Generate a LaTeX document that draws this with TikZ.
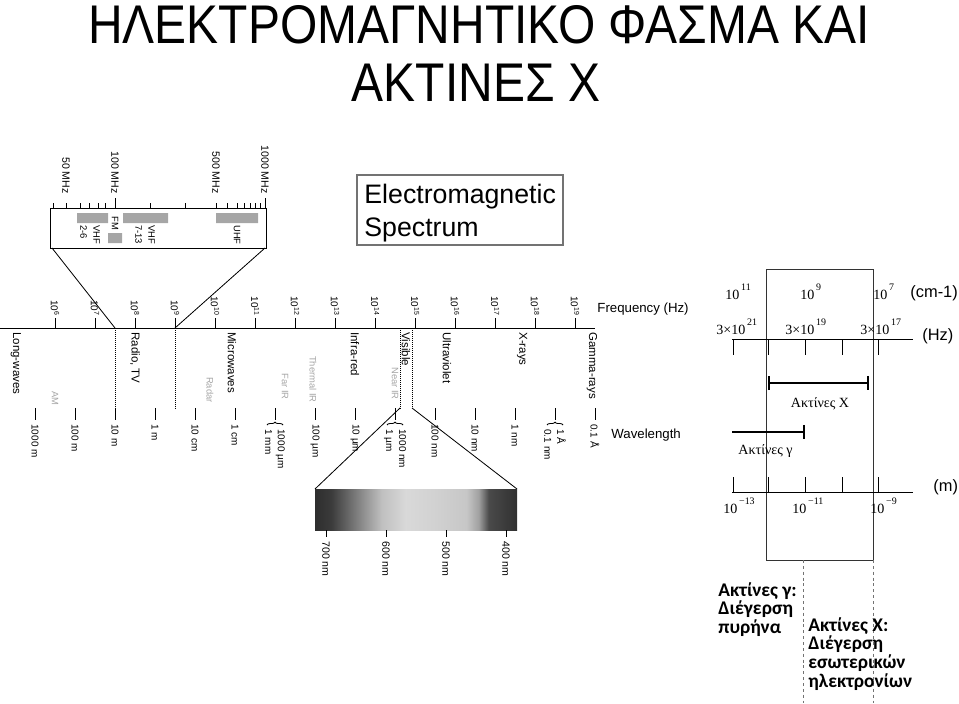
\documentclass[tikz,border=0pt]{standalone}
\usepackage{fontspec}
\setmainfont{Liberation Sans}
\newfontfamily\rmgr{Liberation Serif}
\newfontfamily\notefont{Carlito}
\usetikzlibrary{arrows.meta,decorations.pathreplacing,positioning}
% grey levels of the visible strip
\definecolor{vsA}{gray}{0.18}
\definecolor{vsB}{gray}{0.23}
\definecolor{vsC}{gray}{0.48}
\definecolor{vsD}{gray}{0.75}
\definecolor{vsE}{gray}{0.85}
\definecolor{vsF}{gray}{0.82}
\definecolor{vsG}{gray}{0.78}
\definecolor{vsH}{gray}{0.63}
\definecolor{vsI}{gray}{0.29}
\definecolor{vsJ}{gray}{0.19}
\pgfdeclarehorizontalshading{visspec}{100bp}{color(0bp)=(vsA); color(25bp)=(vsA);
  color(29bp)=(vsB); color(35bp)=(vsC); color(41.5bp)=(vsD); color(47.5bp)=(vsE);
  color(55bp)=(vsF); color(62.5bp)=(vsG); color(65.5bp)=(vsH); color(68bp)=(vsI);
  color(75bp)=(vsJ); color(100bp)=(vsJ)}
\newcommand\pw[1]{\raisebox{0.62em}{\fontsize{8.5}{9}\selectfont\,#1}}

\begin{document}
\begin{tikzpicture}[x=0.03cm, y=-0.03cm, line width=0.7pt,
  every node/.style={inner sep=0pt},
  fqlab/.style={rotate=-90, anchor=east, font=\fontsize{8.5}{9}\selectfont},
  band/.style={rotate=-90, anchor=west, font=\fontsize{9.8}{11}\selectfont},
  faint/.style={rotate=-90, anchor=east, text=black!35, font=\fontsize{8}{9}\selectfont},
  wlab/.style={rotate=-90, anchor=west, align=left, font=\fontsize{8.5}{11}\selectfont},
  inlab/.style={rotate=-90, anchor=west, align=left, font=\fontsize{8}{11}\selectfont},
  axlab/.style={anchor=west, font=\fontsize{11.3}{13}\selectfont},
  sclab/.style={anchor=base west, font=\rmgr\fontsize{12}{14}\selectfont},
  unitlab/.style={anchor=west, font=\fontsize{14}{16}\selectfont},
  note/.style={anchor=north west, align=left, font=\notefont\bfseries\fontsize{16.5}{16}\selectfont},
  title/.style={anchor=base, xscale=0.88, font=\fontsize{46.5}{50}\selectfont}]
\useasboundingbox (0,0) rectangle (959,703);
% Title
\node[title] (title1) at (479,44) {ΗΛΕΚΤΡΟΜΑΓΝΗΤΙΚΟ ΦΑΣΜΑ ΚΑΙ};
\node[title] (title2) at (476,101) {ΑΚΤΙΝΕΣ Χ};

% Radio band blow-up
\draw (50,208) rectangle (266,248);
\foreach \x in {53,66,80,89,98,105,150,185,216,227,237,244,250,255,260}
  \draw (\x,203) -- (\x,208);
\foreach \x in {115,265} \draw (\x,198) -- (\x,208);
\foreach \x/\l in {66/50,115/100,216/500,265/1000}
  \node[fqlab, font=\fontsize{9}{10}\selectfont] (mhz\l) at (\x,194) {\l\ MHz};
\fill[black!35] (77,213) rectangle (108,223) (123,213) rectangle (168,223)
  (216,213) rectangle (258,223) (108,233) rectangle (122,243);
\node[inlab] (vhflo) at (90,225) {VHF\\2-6};
\node[inlab] (fm) at (115,216) {FM};
\node[inlab] (vhfhi) at (145,225) {VHF\\7-13};
\node[inlab] (uhf) at (237,225) {UHF};
\coordinate (inL) at (52,248);
\coordinate (inR) at (265,248);
\coordinate (cut7) at (115,328);
\coordinate (cut9) at (175,328);
\draw (inL) -- (cut7);
\draw (inR) -- (cut9);

% Box title
\draw[black!55, line width=0.9pt] (357,175) rectangle (563,245);
\node[anchor=west, align=left, font=\fontsize{22.8}{27.5}\selectfont] (emtitle) at (364,213) {Electromagnetic\\Spectrum};

% Frequency axis
\draw (0,328) -- (595,328);
\foreach \n in {6,...,19} {
  \pgfmathsetmacro{\fx}{55+40*(\n-6)}
  \draw (\fx,318) -- (\fx,328);
  \node[fqlab] (f\n) at (\fx,316) {10\textsuperscript{\n}};
}
\node[axlab] (freq) at (597,309) {Frequency (Hz)};

% Bands
\foreach \x in {115,175,400,412} \draw[densely dotted] (\x,328) -- (\x,408);
\foreach \x/\t in {16/Long-waves, 135/{Radio, TV}, 232/Microwaves, 355/Infra-red,
  406/Visible, 447/Ultraviolet, 522/X-rays, 592/Gamma-rays}
  \node[band] (b\x) at (\x,332) {\t};
\foreach \x/\e/\t in {55/406/AM, 210/403/Radar, 285/400/Far IR, 313/403/Thermal IR, 395/400/Near IR}
  \node[faint] (s\x) at (\x,\e) {\t};

% Wavelength axis
\foreach \k/\l in {0/1000 m, 1/100 m, 2/10 m, 3/1 m, 4/10 cm, 5/1 cm, 7/100 µm,
  8/10 µm, 10/100 nm, 11/10 nm, 12/1 nm, 14/0.1 Å} {
  \pgfmathsetmacro{\wx}{35+40*\k}
  \draw (\wx,408) -- (\wx,420);
  \node[wlab] (w\k) at (\wx,424) {\l};
}
\foreach \k/\la/\lb in {6/1000 µm/1 mm, 9/1000 nm/1 µm, 13/1 Å/0.1 nm} {
  \pgfmathsetmacro{\wx}{35+40*\k}
  \draw (\wx,408) -- (\wx,420);
  \draw[decorate, decoration={brace, amplitude=2.5pt}] (\wx-8,425) -- (\wx+8,425);
  \node[wlab] (w\k) at (\wx,429) {\la\\\lb};
}
\node[axlab] (wave) at (611,435) {Wavelength};

% Visible strip
\coordinate (visL) at (400,408);
\coordinate (visR) at (412,408);
\coordinate (specL) at (315,489);
\coordinate (specR) at (517,489);
\draw (visL) -- (specL);
\draw (visR) -- (specR);
\shade[shading=visspec] (315,489) rectangle (517,530);
\foreach \x/\l in {326/700, 386/600, 446/500, 506/400} {
  \draw (\x,530) -- (\x,537);
  \node[wlab, font=\fontsize{9}{10}\selectfont] (nm\l) at (\x,541) {\l\ nm};
}

% X-ray window
\draw[black!80] (766,269) rectangle (873,560);
\node[sclab] (k11) at (725,299) {10\pw{11}};
\node[sclab] (k9) at (800,299) {10\pw{9}};
\node[sclab] (k7) at (873,299) {10\pw{7}};
\node[unitlab] (ucm) at (910,293) {(cm-1)};
\node[sclab] (h21) at (716,334) {3×10\pw{21}};
\node[sclab] (h19) at (785,334) {3×10\pw{19}};
\node[sclab] (h17) at (860,334) {3×10\pw{17}};
\node[unitlab] (uhz) at (922,336) {(Hz)};
\draw (732,339) -- (913,339);
\draw (732,492) -- (913,492);
\foreach \x in {733,768,805,842,878} {
  \draw (\x,339) -- (\x,355);
  \draw (\x,477) -- (\x,492);
}
\draw[line width=1.5pt, {Bar[width=12pt]}-{Bar[width=12pt]}] (768,383) -- (869,383);
\node[font=\rmgr\fontsize{12}{14}\selectfont] (xr) at (820,404) {Ακτίνες Χ};
\draw[line width=1.5pt, -{Bar[width=12pt]}] (732,432) -- (805,432);
\node[anchor=west, font=\rmgr\fontsize{12}{14}\selectfont] (gr) at (738,451) {Ακτίνες γ};
\node[sclab] (m13) at (723,513) {10\pw{−13}};
\node[sclab] (m11) at (792,513) {10\pw{−11}};
\node[sclab] (m9) at (870,513) {10\pw{−9}};
\node[unitlab] (um) at (933,487) {(m)};

% Notes
\draw[black!55, dash pattern=on 2.5pt off 2.5pt] (803,560) -- (803,703);
\draw[black!55, dash pattern=on 2.5pt off 2.5pt] (873,560) -- (873,703);
\node[note] (gnote) at (718,582) {Ακτίνες γ:\\Διέγερση\\πυρήνα};
\node[note] (xnote) at (808,617) {Ακτίνες Χ:\\Διέγερση\\εσωτερικών\\ηλεκτρονίων};
\end{tikzpicture}
\end{document}
